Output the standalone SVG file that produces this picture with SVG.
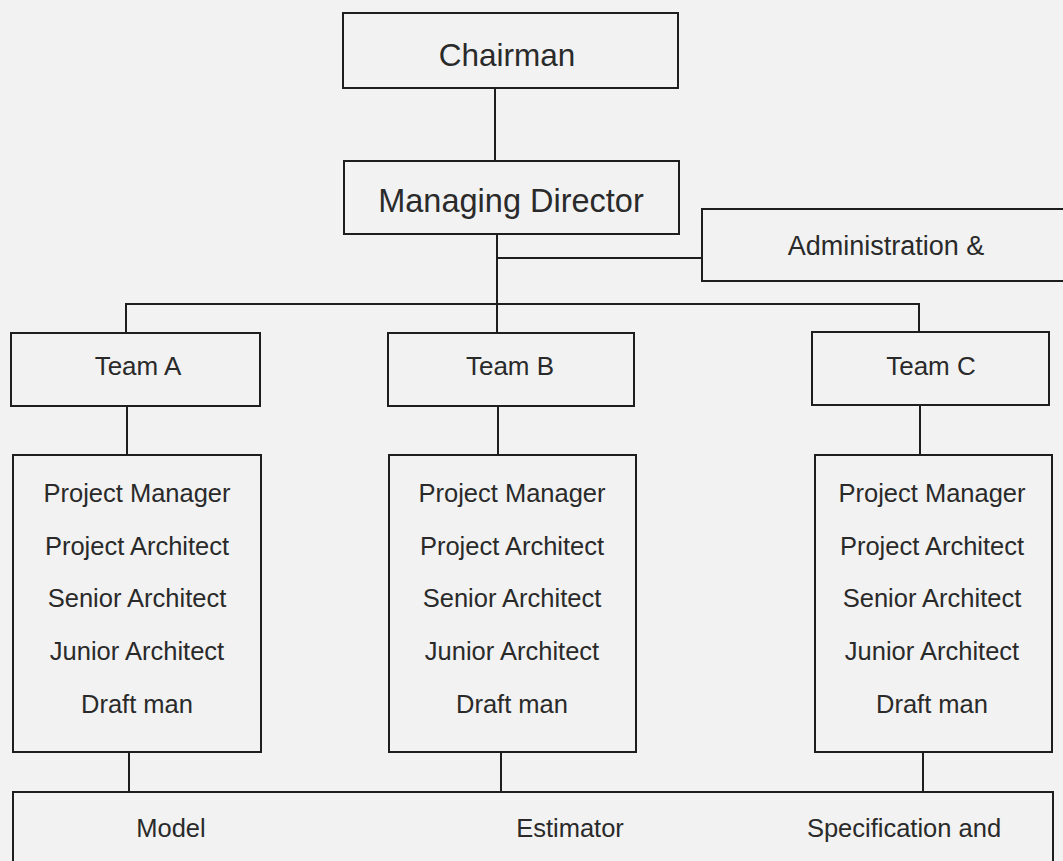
<svg xmlns="http://www.w3.org/2000/svg" width="1063" height="861" viewBox="0 0 1063 861">
  <style>
    .box { fill: #f2f2f2; stroke: #1e1e1e; stroke-width: 2; }
    .wire { fill: none; stroke: #1e1e1e; stroke-width: 2; }
    text { font-family: "Liberation Sans", Arial, sans-serif; fill: #2a2a2a; text-anchor: middle; }
    .chair { font-size: 31.5px; }
    .md { font-size: 32.5px; }
    .admin { font-size: 27px; }
    .mid { font-size: 26px; }
    .staff { font-size: 25.5px; }
  </style>
  <rect width="1063" height="861" fill="#f2f2f2"/>

  <g id="connectors">
    <path class="wire" d="M495 88 V161"/>
    <path class="wire" d="M497 234 V304"/>
    <path class="wire" d="M497 258 H702"/>
    <path class="wire" d="M126 333 V304 H919 V332"/>
    <path class="wire" d="M497 304 V333"/>
    <path class="wire" d="M127 406 V455"/>
    <path class="wire" d="M498 406 V455"/>
    <path class="wire" d="M920 405 V455"/>
    <path class="wire" d="M129 752 V792"/>
    <path class="wire" d="M501 752 V792"/>
    <path class="wire" d="M923 752 V792"/>
  </g>

  <g id="chairman">
    <rect class="box" x="343" y="13" width="335" height="75"/>
    <text class="chair" x="507" y="66">Chairman</text>
  </g>

  <g id="managing-director">
    <rect class="box" x="344" y="161" width="335" height="73"/>
    <text class="md" x="511" y="212">Managing Director</text>
  </g>

  <g id="administration">
    <rect class="box" x="702" y="209" width="370" height="72"/>
    <text class="admin" x="886" y="255">Administration &amp;</text>
  </g>

  <g id="team-a">
    <rect class="box" x="11" y="333" width="249" height="73"/>
    <text class="mid" x="138" y="375">Team A</text>
  </g>
  <g id="team-b">
    <rect class="box" x="388" y="333" width="246" height="73"/>
    <text class="mid" x="510" y="375">Team B</text>
  </g>
  <g id="team-c">
    <rect class="box" x="812" y="332" width="237" height="73"/>
    <text class="mid" x="931" y="375">Team C</text>
  </g>

  <g id="staff-a">
    <rect class="box" x="13" y="455" width="248" height="297"/>
    <text class="staff" x="137" y="502">Project Manager</text>
    <text class="staff" x="137" y="555">Project Architect</text>
    <text class="staff" x="137" y="607">Senior Architect</text>
    <text class="staff" x="137" y="660">Junior Architect</text>
    <text class="staff" x="137" y="713">Draft man</text>
  </g>
  <g id="staff-b">
    <rect class="box" x="389" y="455" width="247" height="297"/>
    <text class="staff" x="512" y="502">Project Manager</text>
    <text class="staff" x="512" y="555">Project Architect</text>
    <text class="staff" x="512" y="607">Senior Architect</text>
    <text class="staff" x="512" y="660">Junior Architect</text>
    <text class="staff" x="512" y="713">Draft man</text>
  </g>
  <g id="staff-c">
    <rect class="box" x="815" y="455" width="237" height="297"/>
    <text class="staff" x="932" y="502">Project Manager</text>
    <text class="staff" x="932" y="555">Project Architect</text>
    <text class="staff" x="932" y="607">Senior Architect</text>
    <text class="staff" x="932" y="660">Junior Architect</text>
    <text class="staff" x="932" y="713">Draft man</text>
  </g>

  <g id="support">
    <rect class="box" x="13" y="792" width="1040" height="90"/>
    <text class="staff" x="171" y="837">Model</text>
    <text class="staff" x="570" y="837">Estimator</text>
    <text class="staff" x="904" y="837">Specification and</text>
  </g>
</svg>
